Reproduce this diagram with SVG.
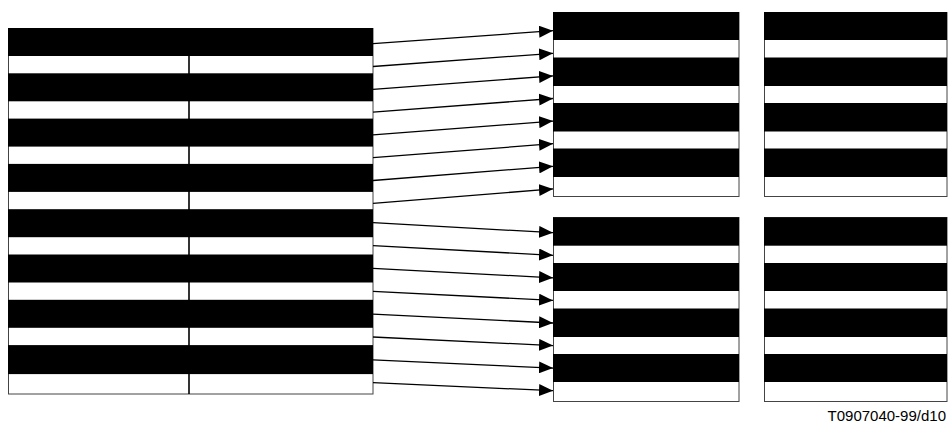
<svg xmlns="http://www.w3.org/2000/svg" width="948" height="424" viewBox="0 0 948 424">
<style>
.frame{fill:#fff;stroke:#444;stroke-width:1}
.band{fill:#000}
.div{stroke:#000;stroke-width:1.6}
.conn{stroke:#000;stroke-width:1.3;fill:none;marker-end:url(#ah)}
.lbl{font-family:"Liberation Sans",Arial,sans-serif;font-size:15px;fill:#000}
</style>
<defs>
<marker id="ah" markerUnits="userSpaceOnUse" markerWidth="14" markerHeight="12" refX="14" refY="6" orient="auto">
<path d="M0,0 L14,6 L0,12 z" fill="#000"/>
</marker>
</defs>
<rect width="948" height="424" fill="#fff"/>
<g id="source">
<rect class="frame" x="8.5" y="28.5" width="364.5" height="365.5"/>
<line class="div" x1="189" y1="28" x2="189" y2="394"/>
<rect class="band" x="8" y="28" width="365" height="28"/>
<rect class="band" x="8" y="73.3" width="365" height="28"/>
<rect class="band" x="8" y="118.6" width="365" height="28"/>
<rect class="band" x="8" y="163.9" width="365" height="28"/>
<rect class="band" x="8" y="209.2" width="365" height="28"/>
<rect class="band" x="8" y="254.5" width="365" height="28"/>
<rect class="band" x="8" y="299.8" width="365" height="28"/>
<rect class="band" x="8" y="345.1" width="365" height="29"/>
</g>
<g id="dest-upper-a">
<rect class="frame" x="553.5" y="12.5" width="185.5" height="184"/>
<rect class="band" x="553" y="12" width="186" height="28"/>
<rect class="band" x="553" y="57.5" width="186" height="28.5"/>
<rect class="band" x="553" y="103" width="186" height="28.5"/>
<rect class="band" x="553" y="148.5" width="186" height="28.5"/>
</g>
<g id="dest-upper-b">
<rect class="frame" x="764.5" y="12.5" width="182.5" height="184"/>
<rect class="band" x="764" y="12" width="183" height="28"/>
<rect class="band" x="764" y="57.5" width="183" height="28.5"/>
<rect class="band" x="764" y="103" width="183" height="28.5"/>
<rect class="band" x="764" y="148.5" width="183" height="28.5"/>
</g>
<g id="dest-lower-a">
<rect class="frame" x="553.5" y="217.5" width="185.5" height="184"/>
<rect class="band" x="553" y="217.3" width="186" height="28.4"/>
<rect class="band" x="553" y="263" width="186" height="28"/>
<rect class="band" x="553" y="308.5" width="186" height="28.5"/>
<rect class="band" x="553" y="354" width="186" height="28"/>
</g>
<g id="dest-lower-b">
<rect class="frame" x="764.5" y="217.5" width="182.5" height="184"/>
<rect class="band" x="764" y="217.3" width="183" height="28.4"/>
<rect class="band" x="764" y="263" width="183" height="28"/>
<rect class="band" x="764" y="308.5" width="183" height="28.5"/>
<rect class="band" x="764" y="354" width="183" height="28"/>
</g>
<g id="connectors">
<line class="conn" x1="373" y1="43.7" x2="553" y2="30.7"/>
<line class="conn" x1="373" y1="66.5" x2="553" y2="53.3"/>
<line class="conn" x1="373" y1="89.3" x2="553" y2="75.9"/>
<line class="conn" x1="373" y1="112.1" x2="553" y2="98.5"/>
<line class="conn" x1="373" y1="134.9" x2="553" y2="121.1"/>
<line class="conn" x1="373" y1="157.7" x2="553" y2="143.7"/>
<line class="conn" x1="373" y1="180.5" x2="553" y2="166.3"/>
<line class="conn" x1="373" y1="203.3" x2="553" y2="188.9"/>
<line class="conn" x1="373" y1="222.7" x2="553" y2="232.7"/>
<line class="conn" x1="373" y1="245.6" x2="553" y2="255.3"/>
<line class="conn" x1="373" y1="268.4" x2="553" y2="277.8"/>
<line class="conn" x1="373" y1="291.3" x2="553" y2="300.4"/>
<line class="conn" x1="373" y1="314.1" x2="553" y2="323"/>
<line class="conn" x1="373" y1="337" x2="553" y2="345.6"/>
<line class="conn" x1="373" y1="359.9" x2="553" y2="368.1"/>
<line class="conn" x1="373" y1="382.7" x2="553" y2="390.7"/>
</g>
<text class="lbl" x="946" y="421" text-anchor="end">T0907040-99/d10</text>
</svg>
